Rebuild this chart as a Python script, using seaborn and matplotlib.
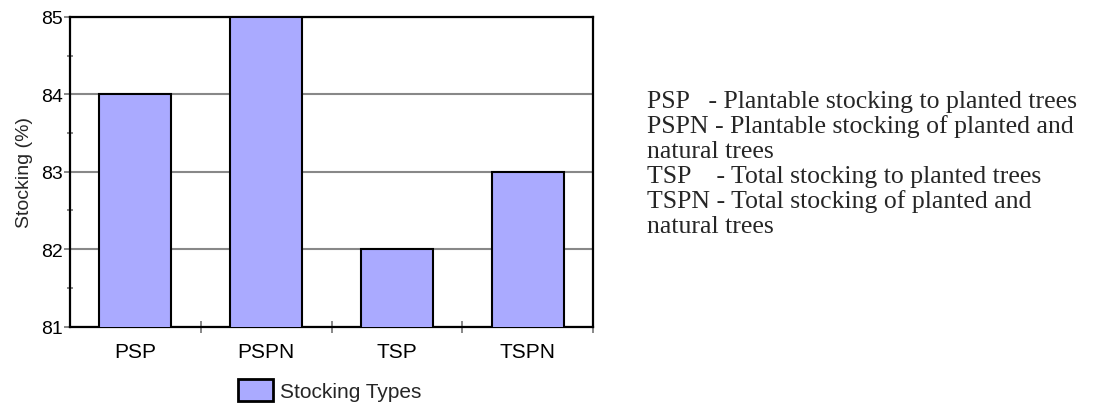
import matplotlib
matplotlib.use("Agg")
import matplotlib.pyplot as plt
import seaborn as sns
import pandas as pd
from matplotlib.ticker import FixedLocator

categories = ["PSP", "PSPN", "TSP", "TSPN"]
stocking = [84, 85, 82, 83]
series_name = "Stocking Types"
y_ticks = [81, 82, 83, 84, 85]
notes = [
    "PSP   - Plantable stocking to planted trees",
    "PSPN - Plantable stocking of planted and",
    "natural trees",
    "TSP    - Total stocking to planted trees",
    "TSPN - Total stocking of planted and",
    "natural trees",
]

sns.set_style("white")
plt.rcParams["font.family"] = ["Liberation Sans", "DejaVu Sans"]

df = pd.DataFrame({"cat": categories, "val": stocking})

fig = plt.figure(figsize=(10.94, 4.06), dpi=100)
ax = fig.add_axes([70 / 1094, 1 - 327.5 / 406, 523 / 1094, 309.5 / 406])

sns.barplot(data=df, x="cat", y="val", color="#aaaaff", edgecolor="black",
            linewidth=1.5, width=0.55, saturation=1, ax=ax, label=series_name,
            zorder=3)
for p in ax.patches:
    p.set_facecolor("#aaaaff")
if ax.get_legend() is not None:
    ax.get_legend().remove()

ax.set_ylim(81, 85)
ax.set_xlim(-0.5, 3.5)
ax.set_yticks(y_ticks)
ax.yaxis.set_minor_locator(FixedLocator([81.5, 82.5, 83.5, 84.5]))
ax.xaxis.set_minor_locator(FixedLocator([0.5, 1.5, 2.5, 3.5]))
ax.grid(axis="y", which="major", color="#888888", linewidth=1.5, zorder=1)
ax.set_axisbelow(True)

ax.tick_params(which="both", bottom=True, left=True, top=False, right=False)
ax.tick_params(axis="x", which="major", length=0, labelsize=15, pad=11)
ax.tick_params(axis="x", which="minor", length=8, width=1.4, direction="inout")
ax.tick_params(axis="y", which="major", length=4.5, width=1.4, direction="out",
               labelsize=14, pad=0.5)
ax.tick_params(axis="y", which="minor", length=4.3, width=1.4, direction="inout")
ax.tick_params(axis="both", which="both", color="#888888", labelcolor="black")

for s in ax.spines.values():
    s.set_visible(True)
    s.set_color("black")
    s.set_linewidth(1.6)

ax.set_xlabel("")
ax.set_ylabel("Stocking (%)", fontsize=14, labelpad=6)

handles, labels = ax.get_legend_handles_labels()
leg = fig.legend(handles[:1], labels[:1], loc="center", bbox_to_anchor=(330 / 1094, 1 - 391 / 406),
                 frameon=False, fontsize=15, handlelength=1.68, handleheight=1.25,
                 handletextpad=0.35, borderpad=0, borderaxespad=0)
for h in leg.legend_handles:
    h.set_edgecolor("black")
    h.set_linewidth(2)
    h.set_facecolor("#aaaaff")

baselines = [108, 133, 158, 183, 208, 233]
for line, yb in zip(notes, baselines):
    fig.text(647 / 1094, 1 - yb / 406, line, fontsize=18.5, va="baseline", ha="left",
             family=["Liberation Serif", "DejaVu Serif"])

fig.savefig("out.png", dpi=100)
